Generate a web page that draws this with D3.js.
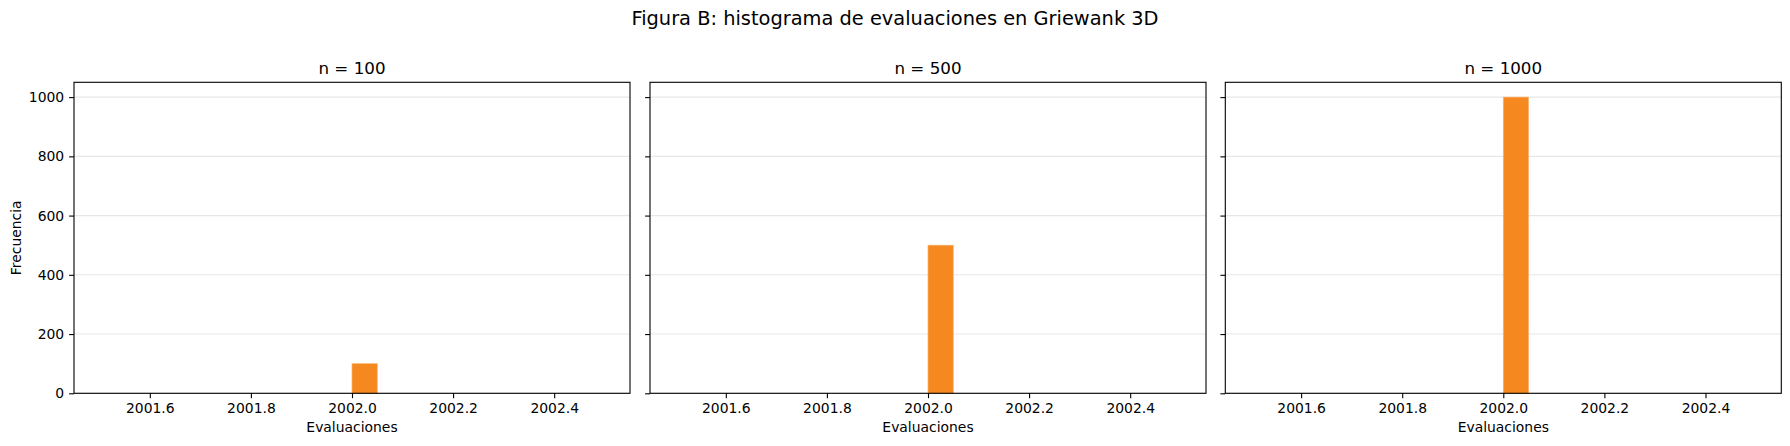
<!DOCTYPE html>
<html>
<head>
<meta charset="utf-8">
<script src="https://cdn.jsdelivr.net/npm/d3@7"></script>
<style>
	body { margin: 0; background: #fff; }
	svg { display: block; font-family: "DejaVu Sans", sans-serif; }
</style>
</head>
<body>
<div id="chart"></div>
<script>
// bin edges of the histogram (20 bins)
var binEdges = [2001.50, 2001.55, 2001.60, 2001.65, 2001.70, 2001.75, 2001.80,
	2001.85, 2001.90, 2001.95, 2002.00, 2002.05, 2002.10, 2002.15, 2002.20,
	2002.25, 2002.30, 2002.35, 2002.40, 2002.45, 2002.50];

var panelTitles = ['n = 100', 'n = 500', 'n = 1000'];

var counts100 = [0, 0, 0, 0, 0, 0, 0, 0, 0, 0, 100, 0, 0, 0, 0, 0, 0, 0, 0, 0];
var counts500 = [0, 0, 0, 0, 0, 0, 0, 0, 0, 0, 500, 0, 0, 0, 0, 0, 0, 0, 0, 0];
var counts1000 = [0, 0, 0, 0, 0, 0, 0, 0, 0, 0, 1000, 0, 0, 0, 0, 0, 0, 0, 0, 0];

var xTicks = [2001.6, 2001.8, 2002.0, 2002.2, 2002.4];
var yTicks = [0, 200, 400, 600, 800, 1000];

var width = 1790,
	height = 446,
	panelLefts = [74, 650, 1225.3],
	panelWidth = 556,
	plotTop = 82.3,
	plotBottom = 393.3,
	barColor = '#f5891f';

var svg = d3.select('#chart')
	.append('svg')
	.attr('width', width)
	.attr('height', height);

svg.append('text')
	.attr('x', width / 2)
	.attr('y', 25)
	.attr('text-anchor', 'middle')
	.attr('font-size', '19.4px')
	.text('Figura B: histograma de evaluaciones en Griewank 3D');

var y = d3.scaleLinear()
	.domain([0, 1050])
	.range([plotBottom, plotTop]);

var allCounts = [counts100, counts500, counts1000];

allCounts.forEach(function(counts, p) {
	var left = panelLefts[p];
	var x = d3.scaleLinear()
		.domain([2001.45, 2002.55])
		.range([left, left + panelWidth]);

	var g = svg.append('g');

	// horizontal grid
	g.selectAll('line.grid')
		.data(yTicks)
		.enter()
		.append('line')
		.attr('class', 'grid')
		.attr('x1', left)
		.attr('x2', left + panelWidth)
		.attr('y1', function(d) { return y(d); })
		.attr('y2', function(d) { return y(d); })
		.attr('stroke', '#b0b0b0')
		.attr('stroke-opacity', 0.3)
		.attr('stroke-width', 1.1);

	var bins = counts.map(function(c, i) {
		return { x0: binEdges[i], x1: binEdges[i + 1], count: c };
	}).filter(function(d) { return d.count > 0; });

	g.selectAll('rect.bar')
		.data(bins)
		.enter()
		.append('rect')
		.attr('class', 'bar')
		.attr('x', function(d) { return x(d.x0); })
		.attr('width', function(d) { return x(d.x1) - x(d.x0); })
		.attr('y', function(d) { return y(d.count); })
		.attr('height', function(d) { return y(0) - y(d.count); })
		.attr('fill', barColor)
		.attr('stroke', '#fbb36e')
		.attr('stroke-width', 0.7);

	var xAxis = d3.axisBottom(x)
		.tickValues(xTicks)
		.tickFormat(d3.format('.1f'))
		.tickSize(4.9)
		.tickPadding(4.9);

	var ax = g.append('g')
		.attr('transform', 'translate(0,' + plotBottom + ')')
		.call(xAxis);
	ax.select('.domain').remove();

	var yAxis = d3.axisLeft(y)
		.tickValues(yTicks)
		.tickSize(4.9)
		.tickPadding(4.9)
		.tickFormat(p === 0 ? d3.format('d') : function() { return ''; });

	var ay = g.append('g')
		.attr('transform', 'translate(' + left + ',0)')
		.call(yAxis);
	ay.select('.domain').remove();

	[ax, ay].forEach(function(a) {
		a.selectAll('text')
			.attr('font-size', '13.9px')
			.attr('font-family', '"DejaVu Sans", sans-serif')
			.attr('fill', '#000');
		a.selectAll('line')
			.attr('stroke', '#000')
			.attr('stroke-width', 1.1);
	});

	// frame
	g.append('rect')
		.attr('x', left)
		.attr('y', plotTop)
		.attr('width', panelWidth)
		.attr('height', plotBottom - plotTop)
		.attr('fill', 'none')
		.attr('stroke', '#000')
		.attr('stroke-width', 1.1);

	g.append('text')
		.attr('x', left + panelWidth / 2)
		.attr('y', 74)
		.attr('text-anchor', 'middle')
		.attr('font-size', '16.7px')
		.text(panelTitles[p]);

	g.append('text')
		.attr('x', left + panelWidth / 2)
		.attr('y', 432)
		.attr('text-anchor', 'middle')
		.attr('font-size', '13.9px')
		.text('Evaluaciones');
});

svg.append('text')
	.attr('transform', 'translate(21,' + ((plotTop + plotBottom) / 2) + ') rotate(-90)')
	.attr('text-anchor', 'middle')
	.attr('font-size', '13.9px')
	.text('Frecuencia');
</script>
</body>
</html>
